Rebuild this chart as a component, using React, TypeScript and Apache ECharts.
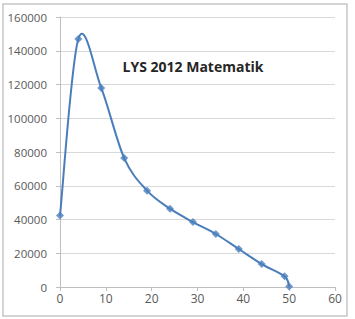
import React, { useEffect, useRef } from "react";
import * as echarts from "echarts";

const xValues = [0, 4, 9, 14, 19, 24, 29, 34, 39, 44, 49, 50];
const yValues = [42300, 147000, 118000, 76400, 57100, 46400, 38500, 31400, 22500, 13600, 6300, 300];
const chartTitle = "LYS 2012 Matematik";

export default function App() {
  const ref = useRef<HTMLDivElement>(null);
  useEffect(() => {
    const chart = echarts.init(ref.current!, null, { renderer: "svg" });
    const font = "'Open Sans', 'Liberation Sans', sans-serif";
    const points = xValues.map((x, i) => [x, yValues[i]]);
    chart.setOption({
      animation: false,
      backgroundColor: "#ffffff",
      grid: { left: 60, right: 20, top: 17, bottom: 32, containLabel: false },
      graphic: [
        {
          type: "rect",
          shape: { x: 3, y: 4, width: 344, height: 312 },
          style: { fill: "none", stroke: "#c6c6c6", lineWidth: 1.5 },
          silent: true,
        },
        {
          type: "text",
          x: 193,
          y: 66,
          style: {
            text: chartTitle,
            fill: "#262626",
            font: `bold 14px ${font}`,
            textAlign: "center",
            textVerticalAlign: "middle",
          },
        },
      ],
      xAxis: {
        type: "value",
        min: 0,
        max: 60,
        interval: 10,
        axisLine: { show: true, lineStyle: { color: "#bfbfbf", width: 1 } },
        axisTick: { show: true, length: 4, lineStyle: { color: "#bfbfbf" } },
        splitLine: { show: false },
        axisLabel: { color: "#595959", fontSize: 12, fontFamily: font, margin: 5 },
      },
      yAxis: {
        type: "value",
        min: 0,
        max: 160000,
        interval: 20000,
        axisLine: { show: true, lineStyle: { color: "#bfbfbf", width: 1 } },
        axisTick: { show: true, length: 4, lineStyle: { color: "#bfbfbf" } },
        splitLine: { show: true, lineStyle: { color: "#d9d9d9", width: 1 } },
        axisLabel: {
          color: "#595959",
          fontSize: 11.5,
          fontFamily: font,
          margin: 13,
          formatter: (v: number) => String(v),
        },
      },
      series: [
        {
          type: "custom",
          data: points,
          silent: true,
          renderItem: (params: any, api: any) => {
            if (params.dataIndex !== 0) return null;
            const px = points.map((p) => api.coord(p));
            const n = px.length;
            let d = `M${px[0][0]},${px[0][1]}`;
            for (let i = 0; i < n - 1; i++) {
              const p0 = px[Math.max(i - 1, 0)];
              const p1 = px[i];
              const p2 = px[i + 1];
              const p3 = px[Math.min(i + 2, n - 1)];
              const c1x = p1[0] + (p2[0] - p0[0]) / 6;
              const c1y = p1[1] + (p2[1] - p0[1]) / 6;
              const c2x = p2[0] - (p3[0] - p1[0]) / 6;
              const c2y = p2[1] - (p3[1] - p1[1]) / 6;
              d += ` C${c1x},${c1y} ${c2x},${c2y} ${p2[0]},${p2[1]}`;
            }
            return {
              type: "path",
              shape: { pathData: d },
              style: { fill: "none", stroke: "#4a7ebb", lineWidth: 2 },
            };
          },
          z: 2,
        },
        {
          type: "scatter",
          data: points,
          symbol: "diamond",
          symbolSize: 8,
          itemStyle: { color: "#4a7ebb" },
          z: 3,
        },
      ],
    });
    return () => chart.dispose();
  }, []);
  return <div ref={ref} style={{ position: "fixed", left: 0, top: 0, width: 355, height: 319 }} />;
}
